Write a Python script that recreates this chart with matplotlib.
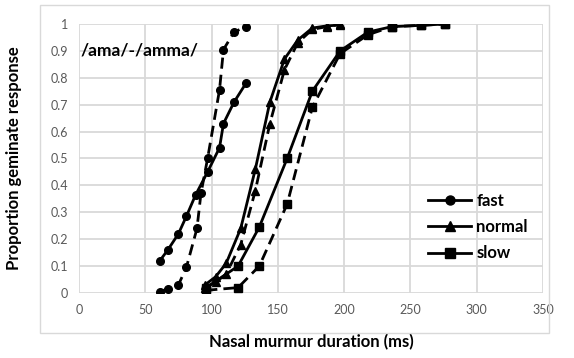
import matplotlib
matplotlib.use("Agg")
import matplotlib.pyplot as plt
from matplotlib.patches import Rectangle
from matplotlib.lines import Line2D

plt.rcParams['font.family'] = ['Lato', 'DejaVu Sans']

# fast rate (circles)
fast_x_solid = [61, 67, 75, 81, 88, 97, 106, 109, 117, 126]
fast_y_solid = [0.12, 0.16, 0.22, 0.285, 0.365, 0.45, 0.54, 0.63, 0.71, 0.78]
fast_x_dash = [61, 67, 75, 81, 89, 92, 97, 106, 109, 117, 126]
fast_y_dash = [0.005, 0.015, 0.03, 0.095, 0.24, 0.37, 0.50, 0.755, 0.905, 0.97, 0.99]

# normal rate (triangles)
normal_x = [95, 103, 111, 122, 133, 144, 155, 165, 176, 187, 197]
normal_y_solid = [0.03, 0.06, 0.11, 0.24, 0.46, 0.71, 0.87, 0.94, 0.985, 0.993, 0.996]
normal_y_dash = [0.02, 0.04, 0.07, 0.18, 0.38, 0.63, 0.83, 0.93, 0.98, 0.99, 1.0]

# slow rate (squares)
slow_x = [96, 120, 136, 157, 176, 197, 218, 236, 258, 276]
slow_y_solid = [0.02, 0.10, 0.245, 0.50, 0.75, 0.90, 0.97, 0.99, 0.995, 1.0]
slow_y_dash = [0.01, 0.02, 0.10, 0.33, 0.69, 0.89, 0.96, 0.99, 0.995, 1.0]

x_ticks = [0, 50, 100, 150, 200, 250, 300, 350]
y_ticks = [0, 0.1, 0.2, 0.3, 0.4, 0.5, 0.6, 0.7, 0.8, 0.9, 1]
labels = ["fast", "normal", "slow"]

##############################################################################################

fig = plt.figure(figsize=(5.74, 3.58), dpi=100)
fig.patches.append(Rectangle((0.0697, 0.07), 0.887, 0.916, transform=fig.transFigure,
                             fill=False, edgecolor="#d9d9d9", linewidth=1.0))
ax = fig.add_axes([0.1376, 0.1816, 0.8084, 0.7514])

lw = 2.0
dash = (0, (4, 2.2))
series = [
    (fast_x_solid, fast_y_solid, "o", "-"),
    (fast_x_dash, fast_y_dash, "o", dash),
    (normal_x, normal_y_solid, "^", "-"),
    (normal_x, normal_y_dash, "^", dash),
    (slow_x, slow_y_solid, "s", "-"),
    (slow_x, slow_y_dash, "s", dash),
]
for xs, ys, mk, ls in series:
    ax.plot(xs, ys, color="black", linestyle=ls, linewidth=lw, marker=mk,
            markersize=5.5, zorder=3)

ax.set_xlim(0, 350)
ax.set_ylim(0, 1)
ax.set_xticks(x_ticks)
ax.set_yticks(y_ticks)
ax.set_yticklabels([str(v) for v in y_ticks])
ax.grid(True, color="#d9d9d9", linewidth=1.3)
ax.set_axisbelow(True)
for s in ax.spines.values():
    s.set_visible(False)
ax.tick_params(length=0, labelsize=9, colors="#595959", pad=8)

ax.set_xlabel("Nasal murmur duration (ms)", fontsize=12, fontweight="bold", labelpad=13)
ax.set_ylabel("Proportion geminate response", fontsize=12, fontweight="bold", labelpad=20)

ax.text(1, 0.9, "/ama/-/amma/", fontsize=12.5, fontweight="bold", va="center", ha="left")

handles = [Line2D([0], [0], color="black", linewidth=lw, marker=m, markersize=6.5)
           for m in ["o", "^", "s"]]
ax.legend(handles, labels, loc="center left", bbox_to_anchor=(0.72, 0.245), frameon=False,
          prop={"size": 12, "weight": "bold"}, handlelength=2.6, handletextpad=0.3,
          labelspacing=0.62)

fig.savefig("out.png", dpi=100)
